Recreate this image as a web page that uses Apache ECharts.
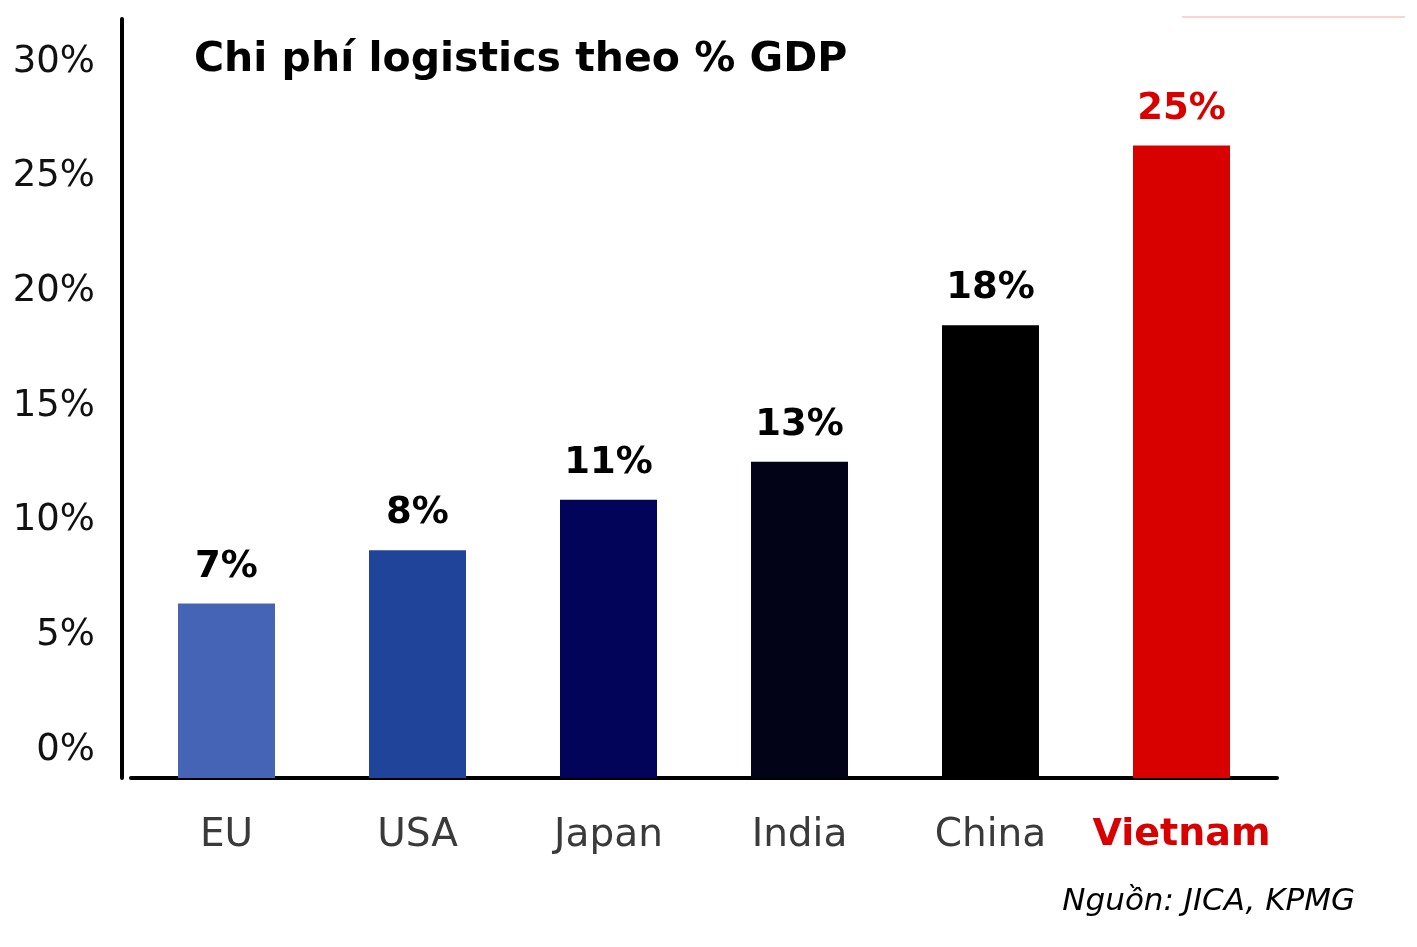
<!DOCTYPE html>
<html>
<head>
<meta charset="utf-8">
<script src="https://cdn.jsdelivr.net/npm/echarts@6/dist/echarts.min.js"></script>
<style>html,body{margin:0;padding:0;background:#fff;}#c{width:1417px;height:947px;}</style>
</head>
<body>
<div id="c"></div>
<script>
const categories = ['EU', 'USA', 'Japan', 'India', 'China', 'Vietnam'];
const values = [6.9, 9.0, 11.0, 12.5, 17.9, 25.0];
const valueLabels = ['7%', '8%', '11%', '13%', '18%', '25%'];
const barColors = ['#4564b6', '#1f4499', '#010458', '#030318', '#000000', '#d90000'];
const yTickValues = [0, 5, 10, 15, 20, 25, 30];
const titleText = 'Chi phí logistics theo % GDP';
const sourceText = 'Nguồn: JICA, KPMG';

const FONT = 'DejaVu Sans';
const chart = echarts.init(document.getElementById('c'));
chart.setOption({
  backgroundColor: '#fff',
  animation: false,
  title: {
    text: titleText, left: 189, top: 35,
    textStyle: { fontFamily: FONT, fontWeight: 'bold', fontSize: 41, color: '#000' }
  },
  graphic: [
    { type: 'text', right: 62, top: 886,
      style: { text: sourceText, fontFamily: FONT, fontStyle: 'italic', fontSize: 31, fill: '#000' } },
    { type: 'line', shape: { x1: 1182, y1: 17, x2: 1405, y2: 17 }, style: { stroke: '#fbd3d3', lineWidth: 2 } }
  ],
  grid: { left: 131, right: 140, top: 19, bottom: 169 },
  xAxis: {
    type: 'category', data: categories,
    axisLine: { lineStyle: { color: '#000', width: 4, cap: 'round' } },
    axisTick: { show: false },
    axisLabel: {
      interval: 0, margin: 38, fontFamily: FONT, fontSize: 39, color: '#3a3a3a',
      formatter: v => v === 'Vietnam' ? '{hi|' + v + '}' : v,
      rich: { hi: { fontFamily: FONT, fontSize: 38, fontWeight: 'bold', color: '#d90000' } }
    }
  },
  yAxis: [
    { type: 'value', min: 0, max: 30, offset: 9,
      axisLine: { show: true, lineStyle: { color: '#000', width: 4 } },
      axisTick: { show: false }, axisLabel: { show: false }, splitLine: { show: false } },
    { type: 'value', min: -1.221, max: 31.875, position: 'left', offset: 9,
      axisLine: { show: false }, axisTick: { show: false }, splitLine: { show: false },
      axisLabel: { customValues: yTickValues, margin: 27, fontFamily: FONT, fontSize: 37, color: '#111',
        formatter: v => v + '%' } }
  ],
  series: [{
    type: 'bar', barWidth: 97, yAxisIndex: 0,
    data: values.map((v, i) => ({
      value: v,
      itemStyle: { color: barColors[i] },
      label: { color: i === 5 ? '#d90000' : '#000' }
    })),
    label: {
      show: true, position: 'top', distance: 18,
      fontFamily: FONT, fontWeight: 'bold', fontSize: 37,
      formatter: p => valueLabels[p.dataIndex]
    }
  }]
});
</script>
</body>
</html>
